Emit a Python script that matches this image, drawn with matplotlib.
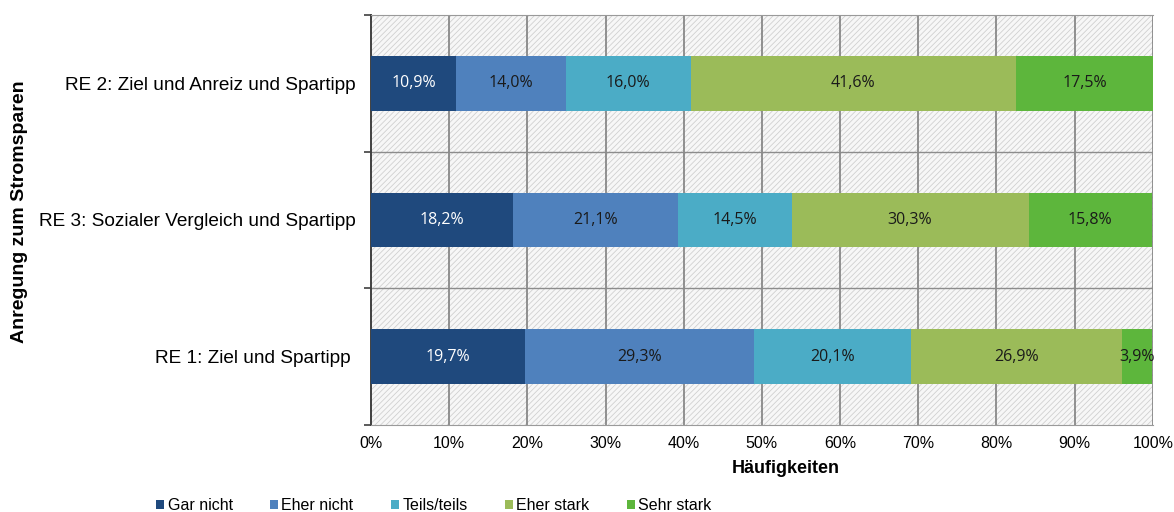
import matplotlib.pyplot as plt
import matplotlib.patches as mpatches
import numpy as np

plt.rcParams['font.family'] = ['Liberation Sans', 'DejaVu Sans']
plt.rcParams['hatch.color'] = '#d0d0d0'
plt.rcParams['hatch.linewidth'] = 0.6

# Daten
kategorien = ['RE 1: Ziel und Spartipp ',
              'RE 3: Sozialer Vergleich und Spartipp',
              'RE 2: Ziel und Anreiz und Spartipp']
stufen = ['Gar nicht', 'Eher nicht', 'Teils/teils', 'Eher stark', 'Sehr stark']
gar_nicht = [19.7, 18.2, 10.9]
eher_nicht = [29.3, 21.1, 14.0]
teils = [20.1, 14.5, 16.0]
eher_stark = [26.9, 30.3, 41.6]
sehr_stark = [3.9, 15.8, 17.5]

werte = [gar_nicht, eher_nicht, teils, eher_stark, sehr_stark]
farben = ['#1f497d', '#4f81bd', '#4bacc6', '#9bbb59', '#5db63c']
textfarben = ['white', '#1a1a1a', '#1a1a1a', '#1a1a1a', '#1a1a1a']

fig = plt.figure(figsize=(11.74, 5.12), dpi=100)
ax = fig.add_axes([0.316, 0.17, 0.666, 0.801])

# Hintergrund schraffiert
ax.set_facecolor('#f7f7f7')
bg = mpatches.Rectangle((0, 0), 1, 1, transform=ax.transAxes, facecolor='none',
                        hatch='//////', edgecolor='#d0d0d0', linewidth=0, zorder=0)
ax.add_patch(bg)

y = np.arange(len(kategorien))
links = np.zeros(len(kategorien))
for i, (w, f) in enumerate(zip(werte, farben)):
    ax.barh(y, w, left=links, height=0.4, color=f, label=stufen[i], zorder=3)
    for j in range(len(y)):
        ax.text(links[j] + w[j] / 2, y[j], f'{w[j]:.1f}%'.replace('.', ','),
                ha='center', va='center', fontsize=11.5, color=textfarben[i],
                family=['Open Sans', 'DejaVu Sans'], zorder=4)
    links += np.array(w)

ax.set_xlim(0, 100)
ax.set_ylim(-0.5, 2.5)
ax.set_xticks(np.arange(0, 101, 10))
ax.set_xticklabels([f'{v}%' for v in range(0, 101, 10)], fontsize=11.5)
ax.set_yticks(y)
ax.set_yticklabels(kategorien, fontsize=13.7)
ax.set_yticks([-0.5, 0.5, 1.5, 2.5], minor=True)
ax.tick_params(axis='y', which='major', length=0, pad=11)
ax.tick_params(axis='y', which='minor', length=5, width=1.2, color='#404040')
ax.tick_params(axis='x', length=0, pad=8)

for xv in range(10, 101, 10):
    ax.axvline(xv, color='#7f7f7f', linewidth=1.2, zorder=1)
for yv in [0.5, 1.5]:
    ax.axhline(yv, color='#8c8c8c', linewidth=1.0, zorder=1)

for s in ['top', 'right', 'bottom']:
    ax.spines[s].set_color('#9a9a9a')
ax.spines['right'].set_visible(False)
ax.spines['left'].set_color('#404040')
ax.spines['left'].set_linewidth(1.4)

ax.set_xlabel('Häufigkeiten', fontsize=13, fontweight='bold')
ax.xaxis.set_label_coords(0.531, -0.085)
fig.text(0.017, 0.586, 'Anregung zum Stromsparen', rotation=90, fontsize=14,
         fontweight='bold', ha='center', va='center')

fig.legend(loc='lower left', bbox_to_anchor=(0.121, -0.03), ncol=5, frameon=False,
           fontsize=11.5, handlelength=0.5, handleheight=0.5, handletextpad=0.2,
           columnspacing=2.35)

plt.savefig('out.png', dpi=100)
